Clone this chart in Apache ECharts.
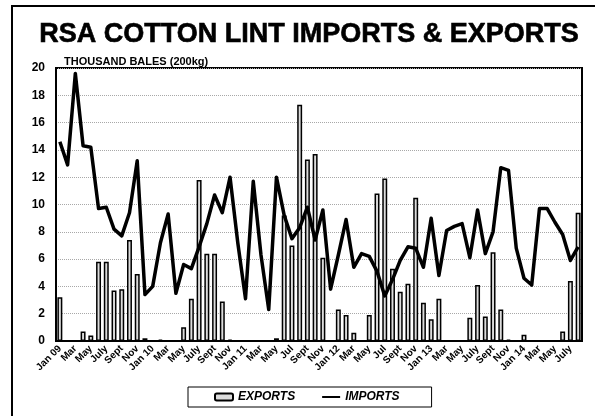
<!DOCTYPE html>
<html>
<head>
<meta charset="utf-8">
<script src="https://cdn.jsdelivr.net/npm/echarts@6/dist/echarts.min.js"></script>
<style>
  html, body { margin: 0; padding: 0; background: #fff; }
  #chart { width: 595px; height: 416px; }
</style>
</head>
<body>
<div id="chart"></div>
<script>
// Monthly labels, Jan 2009 – Aug 2014 (only every second month is labelled)
const months = [
  'Jan 09','','Mar','','May','','July','','Sept','','Nov','',
  'Jan 10','','Mar','','May','','July','','Sept','','Nov','',
  'Jan 11','','Mar','','May','','Jul','','Sept','','Nov','',
  'Jan 12','','Mar','','May','','Jul','','Sept','','Nov','',
  'Jan 13','','Mar','','May','','July','','Sept','','Nov','',
  'Jan 14','','Mar','','May','','July',''
];

// Thousand bales (200kg)
const exportsData = [
  3.2, 0, 0, 0.7, 0.4, 5.8, 5.8, 3.7, 3.8, 7.4, 4.9, 0.2,
  0.05, 0.1, 0, 0, 1.0, 3.1, 11.8, 6.4, 6.4, 2.9, 0.1, 0,
  0, 0, 0, 0, 0.2, 9.2, 7.0, 17.3, 13.3, 13.7, 6.1, 0,
  2.3, 1.9, 0.6, 0, 1.9, 10.8, 11.9, 5.3, 3.6, 4.2, 10.5, 2.8,
  1.6, 3.1, 0, 0, 0.05, 1.7, 4.1, 1.8, 6.5, 2.3, 0.1, 0,
  0.45, 0, 0, 0, 0, 0.7, 4.4, 9.4
];

const importsData = [
  14.6, 12.9, 19.6, 14.3, 14.2, 9.7, 9.8, 8.2, 7.7, 9.4, 13.2, 3.4,
  4.0, 7.2, 9.3, 3.5, 5.6, 5.3, 6.9, 8.6, 10.7, 9.4, 12.0, 7.2,
  3.1, 11.7, 6.3, 2.3, 12.0, 9.2, 7.5, 8.3, 9.8, 7.4, 9.6, 3.8,
  6.3, 8.9, 5.4, 6.4, 6.2, 5.1, 3.3, 4.5, 5.9, 6.9, 6.8, 5.4,
  9.0, 4.8, 8.1, 8.4, 8.6, 6.1, 9.6, 6.4, 8.0, 12.7, 12.5, 6.8,
  4.6, 4.1, 9.7, 9.7, 8.7, 7.8, 5.9, 6.9
];

const yTicks = { min: 0, max: 20, interval: 2 };

const FONT = 'Arial, "Liberation Sans", sans-serif';

const chart = echarts.init(document.getElementById('chart'), null, { renderer: 'canvas' });

chart.setOption({
  backgroundColor: '#fff',
  animation: false,
  textStyle: { fontFamily: FONT },
  graphic: [
    {
      type: 'rect',
      shape: { x: 12, y: 6, width: 700, height: 500 },
      style: { fill: 'none', stroke: '#000', lineWidth: 2 },
      silent: true
    },
    {
      type: 'text',
      x: 309, y: 35,
      style: {
        text: 'RSA COTTON LINT IMPORTS & EXPORTS',
        font: 'bold 27px ' + FONT,
        fill: '#000',
        stroke: '#000',
        lineWidth: 0.6,
        align: 'center',
        verticalAlign: 'middle'
      }
    },
    {
      type: 'text',
      x: 64, y: 67,
      style: {
        text: 'THOUSAND BALES (200kg)',
        font: 'bold 11px ' + FONT,
        fill: '#000',
        align: 'left',
        verticalAlign: 'bottom'
      }
    }
  ],
  grid: {
    left: 56, right: 13, top: 68, bottom: 75,
    show: true,
    borderColor: '#000',
    borderWidth: 2,
    containLabel: false
  },
  legend: {
    left: 188, top: 387,
    orient: 'horizontal',
    borderColor: '#000',
    borderWidth: 1,
    padding: [4, 32, 4, 26],
    itemGap: 26,
    itemWidth: 18,
    itemHeight: 7,
    textStyle: { fontFamily: FONT, fontSize: 12, fontWeight: 'bold', fontStyle: 'italic', color: '#000' },
    data: [
      { name: 'EXPORTS' },
      { name: 'IMPORTS', itemStyle: { color: 'rgba(0,0,0,0)', borderColor: 'rgba(0,0,0,0)', borderWidth: 0 } }
    ]
  },
  xAxis: {
    type: 'category',
    data: months,
    boundaryGap: true,
    axisLine: { lineStyle: { color: '#000', width: 2 } },
    axisTick: { show: false },
    axisLabel: {
      interval: 0,
      rotate: 45,
      margin: 6,
      color: '#000',
      fontFamily: FONT,
      fontSize: 10,
      fontWeight: 'bold'
    }
  },
  yAxis: {
    type: 'value',
    min: yTicks.min, max: yTicks.max, interval: yTicks.interval,
    axisLine: { show: true, lineStyle: { color: '#000', width: 2 } },
    axisTick: { show: false },
    axisLabel: {
      margin: 11,
      color: '#000',
      fontFamily: FONT,
      fontSize: 12,
      fontWeight: 'bold'
    },
    splitLine: { show: true, lineStyle: { color: '#a8a8a8', type: 'dotted', width: 1 } }
  },
  series: [
    {
      name: 'EXPORTS',
      type: 'bar',
      data: exportsData,
      barWidth: '64%',
      itemStyle: { color: '#dcdcdc', borderColor: '#000', borderWidth: 1.5 }
    },
    {
      name: 'IMPORTS',
      type: 'line',
      data: importsData,
      symbol: 'none',
      lineStyle: { color: '#000', width: 3.5, join: 'round' },
      itemStyle: { color: '#000' }
    }
  ]
});
</script>
</body>
</html>
